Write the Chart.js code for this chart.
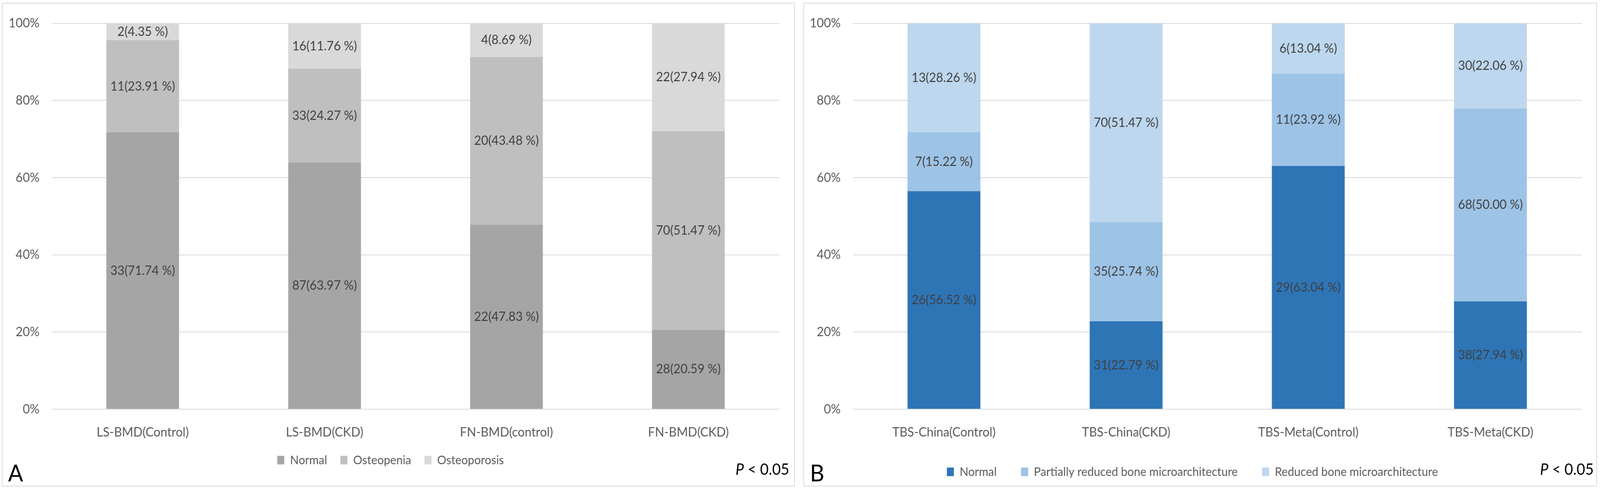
<!DOCTYPE html>
<html>
<head>
<meta charset="utf-8">
<script src="https://cdn.jsdelivr.net/npm/chart.js@4.4.0/dist/chart.umd.min.js"></script>
<style>
    html, body { margin: 0; padding: 0; background: #fff; overflow: hidden; }
    body { font-family: Lato, sans-serif; }
    #pagina { position: absolute; left: 0; top: 0; width: 4328px; height: 1255px; transform-origin: 0 0; }
    .frame { position: absolute; border: 2px solid #d9d9d9; box-sizing: border-box; }
    .box { position: absolute; }
    .letra { position: absolute; font-size: 60px; line-height: 1; color: #000; }
    .pval { position: absolute; font-size: 40px; line-height: 1; color: #000; white-space: nowrap; }
</style>
</head>
<body>
<div id="pagina">
    <div class="frame" style="left:5px;top:7px;width:2145px;height:1239px;"></div>
    <div class="frame" style="left:2173px;top:7px;width:2147px;height:1239px;"></div>

    <div class="box" style="left:5px;top:7px;width:2145px;height:1239px;"><canvas id="graficoA"></canvas></div>
    <div class="box" style="left:2173px;top:7px;width:2147px;height:1239px;"><canvas id="graficoB"></canvas></div>

    <div class="letra" style="left:22px;top:1180px;">A</div>
    <div class="letra" style="left:2191px;top:1180px;">B</div>
    <div class="pval" style="right:2193px;top:1181px;"><i>P</i> &lt; 0.05</div>
    <div class="pval" style="right:17px;top:1181px;"><i>P</i> &lt; 0.05</div>
</div>

<script>
// painel A - BMD
var categoriasA = ['LS-BMD(Control)', 'LS-BMD(CKD)', 'FN-BMD(control)', 'FN-BMD(CKD)'];
var seriesA = ['Normal', 'Osteopenia', 'Osteoporosis'];
var coresA = ['#a5a5a5', '#bfbfbf', '#d9d9d9'];
var nNormalA = [33, 87, 22, 28];
var pctNormalA = [71.74, 63.97, 47.83, 20.59];
var nOsteopeniaA = [11, 33, 20, 70];
var pctOsteopeniaA = [23.91, 24.27, 43.48, 51.47];
var nOsteoporosisA = [2, 16, 4, 22];
var pctOsteoporosisA = [4.35, 11.76, 8.69, 27.94];

// painel B - TBS
var categoriasB = ['TBS-China(Control)', 'TBS-China(CKD)', 'TBS-Meta(Control)', 'TBS-Meta(CKD)'];
var seriesB = ['Normal', 'Partially reduced bone microarchitecture', 'Reduced bone microarchitecture'];
var coresB = ['#2e75b6', '#9dc3e6', '#bdd7ee'];
var nNormalB = [26, 31, 29, 38];
var pctNormalB = [56.52, 22.79, 63.04, 27.94];
var nParcialB = [7, 35, 11, 68];
var pctParcialB = [15.22, 25.74, 23.92, 50.00];
var nReduzidoB = [13, 70, 6, 30];
var pctReduzidoB = [28.26, 51.47, 13.04, 22.06];

var yTicks = [0, 20, 40, 60, 80, 100];

var rotulosSegmento = {
    id: 'rotulosSegmento',
    afterDatasetsDraw: function (chart) {
        var ctx = chart.ctx;
        ctx.save();
        ctx.font = '33px Lato';
        ctx.fillStyle = '#404040';
        ctx.textAlign = 'center';
        ctx.textBaseline = 'middle';
        chart.data.datasets.forEach(function (ds, i) {
            chart.getDatasetMeta(i).data.forEach(function (bar, j) {
                var y = (bar.y + bar.base) / 2;
                ctx.fillText(ds.counts[j] + '(' + ds.data[j].toFixed(2) + ' %)', bar.x, y);
            });
        });
        ctx.restore();
    }
};

// desloca a legenda para a posição do original
var moverLegenda = {
    id: 'moverLegenda',
    beforeDraw: function (chart, args, opts) {
        var leg = chart.legend;
        if (!leg || leg._movida) return;
        leg.left += opts.dx; leg.right += opts.dx;
        leg.top += opts.dy; leg.bottom += opts.dy;
        leg._movida = true;
    }
};

function montarDatasets(series, cores, contagens, pcts) {
    return series.map(function (nome, i) {
        return {
            label: nome,
            data: pcts[i],
            counts: contagens[i],
            backgroundColor: cores[i],
            borderWidth: 0,
            barPercentage: 0.8,
            categoryPercentage: 0.5,
        };
    });
}

function criarGrafico(id, categorias, datasets, cfg) {
    var ctx = document.getElementById(id).getContext('2d');
    return new Chart(ctx, {
        type: 'bar',
        data: { labels: categorias, datasets: datasets },
        plugins: [rotulosSegmento, moverLegenda],
        options: {
            responsive: true,
            maintainAspectRatio: false,
            devicePixelRatio: 1,
            animation: false,
            layout: { padding: { left: 0, right: 42, top: 49, bottom: cfg.padInf } },
            plugins: {
                tooltip: { enabled: false },
                moverLegenda: { dx: cfg.dx, dy: cfg.dy },
                legend: {
                    position: 'bottom',
                    labels: {
                        boxWidth: 19,
                        boxHeight: 22,
                        padding: cfg.legPad,
                        color: '#595959',
                        font: { family: 'Lato', size: 31 },
                    },
                },
            },
            scales: {
                x: {
                    stacked: true,
                    grid: { display: false },
                    border: { display: false },
                    ticks: { color: '#595959', font: { family: 'Lato', size: 33 }, padding: 32, maxRotation: 0 },
                    afterFit: function (s) { s.height = 79; },
                },
                y: {
                    stacked: true,
                    min: 0,
                    max: 100,
                    afterBuildTicks: function (s) { s.ticks = yTicks.map(function (v) { return { value: v }; }); },
                    grid: { color: '#d9d9d9', lineWidth: 2, drawTicks: false },
                    border: { display: false },
                    ticks: {
                        color: '#595959',
                        font: { family: 'Lato', size: 33 },
                        padding: 33,
                        callback: function (v) { return v + '%'; },
                    },
                    afterFit: function (s) { s.width = cfg.largY; },
                },
            },
        },
    });
}

document.addEventListener('DOMContentLoaded', function () {
    // a janela real pode ser mais estreita que 4328px: encaixa a página na largura disponível
    var escala = window.innerWidth / 4328;
    document.getElementById('pagina').style.transform = 'scaleX(' + escala + ')';

    criarGrafico('graficoA', categoriasA,
        montarDatasets(seriesA, coresA,
            [nNormalA, nOsteopeniaA, nOsteoporosisA],
            [pctNormalA, pctOsteopeniaA, pctOsteoporosisA]),
        { largY: 135, legPad: 36, padInf: 42, dx: 59, dy: 0 });

    criarGrafico('graficoB', categoriasB,
        montarDatasets(seriesB, coresB,
            [nNormalB, nParcialB, nReduzidoB],
            [pctNormalB, pctParcialB, pctReduzidoB]),
        { largY: 134, legPad: 66, padInf: 12, dx: 58, dy: -30 });
});
</script>
</body>
</html>
